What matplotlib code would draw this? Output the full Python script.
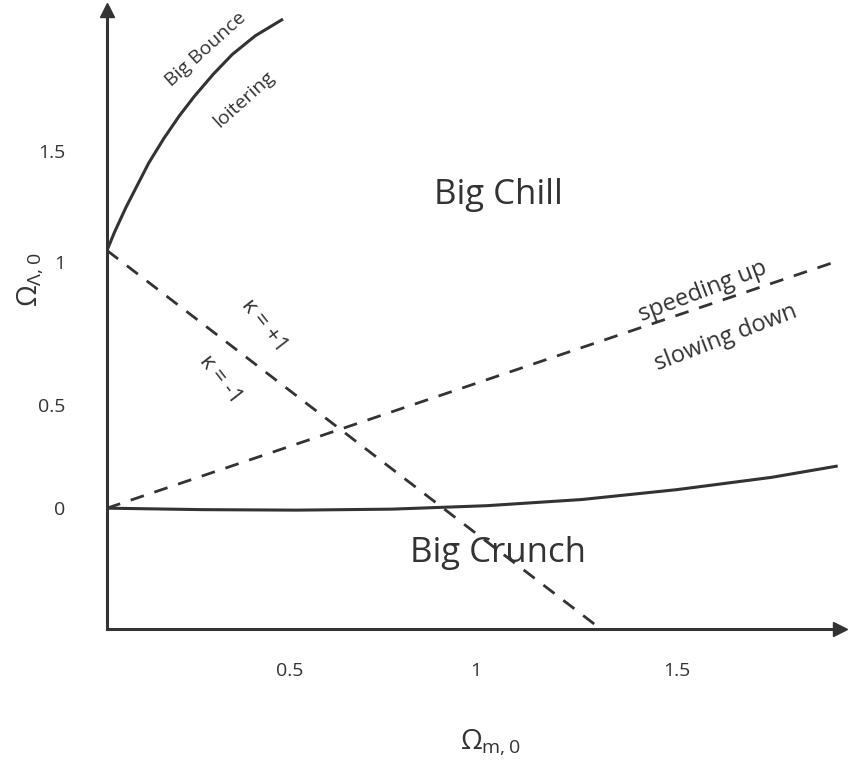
import matplotlib
matplotlib.use("Agg")
import matplotlib.pyplot as plt

plt.rcParams['font.family'] = 'Open Sans'
C = '#333333'

# data
x_ticks = [0.48, 0.97, 1.5]
x_tick_labels = ['0.5', '1', '1.5']
y_ticks = [0, 0.42, 1, 1.45]
y_tick_labels = ['0', '0.5', '1', '1.5']
kappa_x = [0.0, 1.30]
kappa_y = [1.045, -0.49]
accel_x = [0.0, 1.92]
accel_y = [0.0, 1.0]
crunch_x = [0.0, 0.25, 0.5, 0.75, 1.0, 1.25, 1.5, 1.75, 1.92]
crunch_y = [0.0, -0.006, -0.008, -0.004, 0.01, 0.035, 0.075, 0.125, 0.17]
bounce_x = [0.0, 0.02, 0.05, 0.08, 0.11, 0.15, 0.19, 0.23, 0.28, 0.33, 0.39, 0.46]
bounce_y = [1.045, 1.12, 1.22, 1.31, 1.40, 1.50, 1.59, 1.67, 1.76, 1.84, 1.915, 1.98]

W, H = 851, 760
fig = plt.figure(figsize=(W/100, H/100), dpi=100)
ax = fig.add_axes([107/W, (H-629)/H, (840-107)/W, (629-10)/H])
ax.set_xlim(0, 1.93)
ax.set_ylim(-0.49, 2.02)
for s in ['top', 'right']:
    ax.spines[s].set_visible(False)
for s in ['left', 'bottom']:
    ax.spines[s].set_color(C)
    ax.spines[s].set_linewidth(2.2)
ax.plot(1, 0, '>', color=C, ms=10, transform=ax.transAxes, clip_on=False)
ax.plot(0, 1, '^', color=C, ms=10, transform=ax.transAxes, clip_on=False)
ax.set_xticks(x_ticks, x_tick_labels)
ax.set_yticks(y_ticks, y_tick_labels)
ax.tick_params(length=0, labelsize=14, colors=C, pad=24)
ax.tick_params(axis='y', pad=30)

ax.plot(kappa_x, kappa_y, '--', color=C, lw=2, dashes=(5, 4))
ax.plot(accel_x, accel_y, '--', color=C, lw=2, dashes=(5, 4))
ax.plot(crunch_x, crunch_y, '-', color=C, lw=2.2)
ax.plot(bounce_x, bounce_y, '-', color=C, lw=2.2)

ax.text(1.03, 1.27, 'Big Chill', fontsize=25, color=C, ha='center', va='center')
ax.text(1.03, -0.18, 'Big Crunch', fontsize=25, color=C, ha='center', va='center')
ax.text(1.57, 0.88, 'speeding up', fontsize=17, color=C, ha='center', va='center', rotation=21)
ax.text(1.63, 0.69, 'slowing down', fontsize=17, color=C, ha='center', va='center', rotation=21)
ax.text(0.415, 0.74, 'κ = +1', fontsize=16, color=C, ha='center', va='center', rotation=-52)
ax.text(0.30, 0.52, 'κ = -1', fontsize=16, color=C, ha='center', va='center', rotation=-52)
ax.text(0.26, 1.86, 'Big Bounce', fontsize=14, color=C, ha='center', va='center', rotation=42)
ax.text(0.36, 1.66, 'loitering', fontsize=14, color=C, ha='center', va='center', rotation=42)

fig.text(490/W, 1-742/H, r'$\mathregular{\Omega_{m,0}}$', fontsize=20, color=C, ha='center', va='center')
fig.text(30/W, 1-280/H, r'$\mathregular{\Omega_{\Lambda,0}}$', fontsize=20, color=C, ha='center', va='center', rotation=90)

fig.savefig('out.png', dpi=100)
